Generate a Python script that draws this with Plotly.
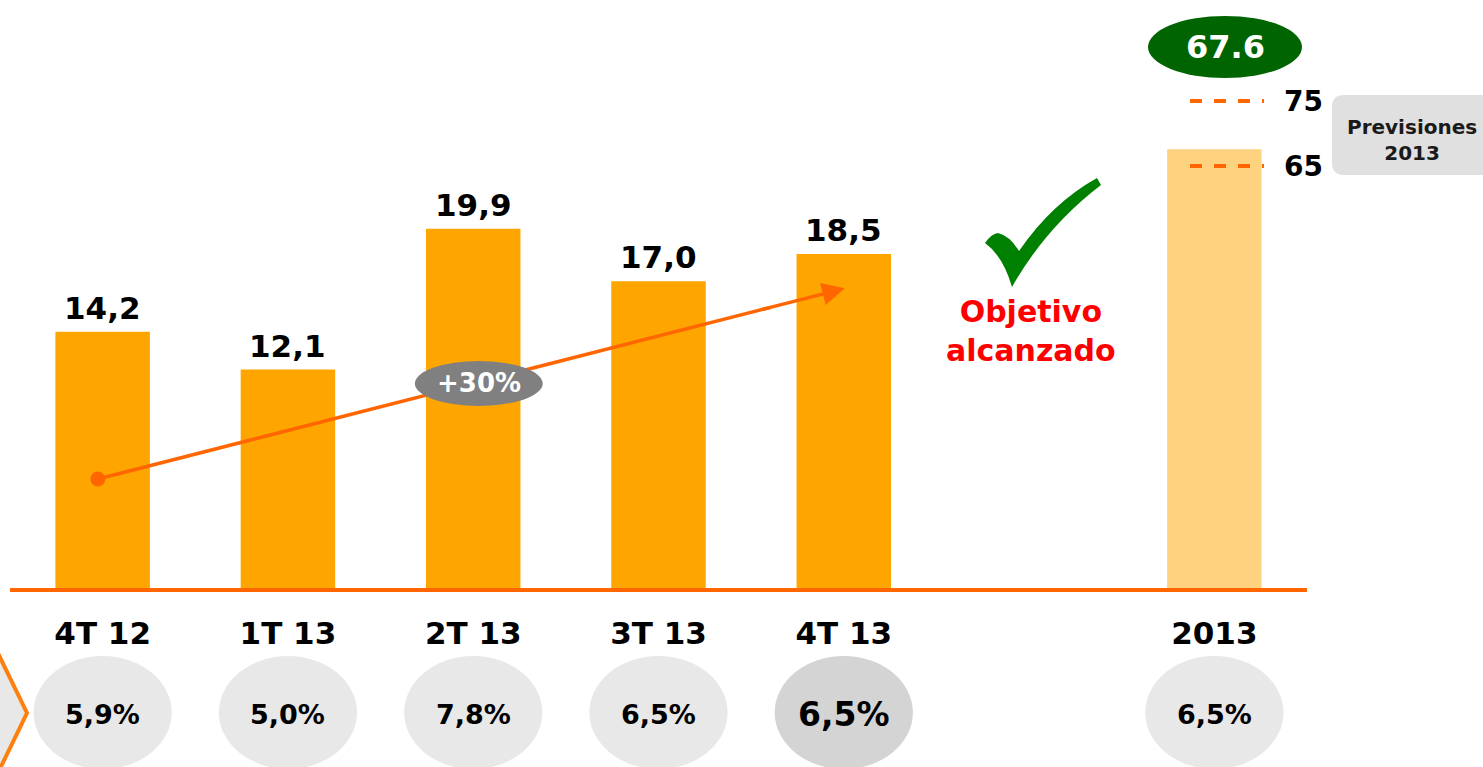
import plotly.graph_objects as go

# ---------------- data ----------------
categories = ["4T 12", "1T 13", "2T 13", "3T 13", "4T 13", "2013"]
cat_pos = [0, 1, 2, 3, 4, 6]
quarter_values = [14.2, 12.1, 19.9, 17.0, 18.5]
year_value = [67.6]
year_actual_label = "67.6"
forecast_low_high = [65, 75]
margin_pct = ["5,9%", "5,0%", "7,8%", "6,5%", "6,5%", "6,5%"]
highlight_idx = 4
trend_x = [-0.026, 4.006]
trend_y = [6.04, 16.6]
trend_label = "+30%"

FONT = "DejaVu Sans"
ORANGE = "#FFA500"
LINE_OR = "#FF6600"

W, H = 1483, 767
L, R, T, B = 10, 176, 20, 179
PW, PH = W - L - R, H - T - B


def px(x, y):
    """pixel -> paper coordinates (decorations only)"""
    return (x - L) / PW, (H - B - y) / PH


def path(points_cmds):
    out = []
    for cmd, pts in points_cmds:
        coords = []
        for (x, y) in pts:
            a, b = px(x, y)
            coords.append(f"{a:.5f},{b:.5f}")
        out.append(cmd + " " + " ".join(coords))
    return " ".join(out) + " Z"


def text_ann(x, y, text, size, color, xref="paper", yref="paper", **kw):
    d = dict(x=x, y=y, xref=xref, yref=yref, text=text, showarrow=False,
             xanchor="center", yanchor="middle",
             font=dict(family=FONT, size=size, color=color))
    d.update(kw)
    return d


fig = go.Figure()

fig.add_trace(go.Bar(
    x=cat_pos[:5], y=quarter_values, width=0.51,
    marker=dict(color=ORANGE, line=dict(width=0)),
    hoverinfo="skip",
))
fig.add_trace(go.Bar(
    x=[cat_pos[5]], y=year_value, width=0.51, yaxis="y2",
    marker=dict(color="#FFD280", line=dict(width=0)),
    hoverinfo="skip",
))

# trend line (arrow)
frac = 0.9
mid_x = trend_x[0] + frac * (trend_x[1] - trend_x[0])
mid_y = trend_y[0] + frac * (trend_y[1] - trend_y[0])
fig.add_trace(go.Scatter(
    x=[trend_x[0], mid_x], y=[trend_y[0], mid_y], mode="lines",
    line=dict(color=LINE_OR, width=3.5), hoverinfo="skip",
))
fig.add_trace(go.Scatter(
    x=[trend_x[0]], y=[trend_y[0]], mode="markers",
    marker=dict(color=LINE_OR, size=15), hoverinfo="skip",
))

shapes = []
annotations = []

# value labels above the bars
for c, v in zip(cat_pos[:5], quarter_values):
    annotations.append(text_ann(c, v, "<b>" + f"{v:.1f}".replace(".", ",") + "</b>", 31, "black",
                                xref="x", yref="y", yanchor="bottom", yshift=4))

annotations.append(dict(
    x=trend_x[1], y=trend_y[1], ax=mid_x - 0.05, ay=mid_y - 0.13,
    axref="x", ayref="y", xref="x", yref="y", text="",
    showarrow=True, arrowhead=2, arrowsize=1.3, arrowwidth=3.5,
    arrowcolor=LINE_OR, standoff=0,
))

# +30% oval
ox, oy = 2.03, 11.33
shapes.append(dict(type="circle", xref="x", yref="y", layer="above",
                   x0=ox - 0.345, x1=ox + 0.345, y0=oy - 1.245, y1=oy + 1.245,
                   fillcolor="#808080", line=dict(width=0)))
annotations.append(text_ann(ox, oy, f"<b>{trend_label}</b>", 26, "white", xref="x", yref="y"))

# percentage ovals below axis
for i, (c, p) in enumerate(zip(cat_pos, margin_pct)):
    hi = i == highlight_idx
    shapes.append(dict(type="circle", xref="x", yref="paper",
                       x0=c - 0.373, x1=c + 0.373,
                       y0=px(0, 769)[1], y1=px(0, 656)[1],
                       fillcolor="#D4D4D4" if hi else "#E8E8E8", line=dict(width=0)))
    annotations.append(text_ann(c, px(0, 714)[1], f"<b>{p}</b>", 33 if hi else 27, "black",
                                xref="x", yref="paper"))

# green oval with actual value
gx0, gy0 = px(1148, 16)
gx1, gy1 = px(1302, 78)
shapes.append(dict(type="circle", xref="paper", yref="paper",
                   x0=gx0, x1=gx1, y0=gy1, y1=gy0,
                   fillcolor="#006400", line=dict(width=0)))
annotations.append(text_ann((gx0 + gx1) / 2, (gy0 + gy1) / 2, f"<b>{year_actual_label}</b>", 32, "white"))

# forecast dashed lines (on secondary scale)
for v in forecast_low_high:
    shapes.append(dict(type="line", xref="paper", yref="y2",
                       x0=px(1190, 0)[0], x1=px(1264, 0)[0], y0=v, y1=v,
                       line=dict(color=LINE_OR, width=4, dash="dash")))
    annotations.append(text_ann(px(1282, 0)[0], v, f"<b>{v}</b>", 28, "black",
                                yref="y2", xanchor="left"))

# Previsiones box (rounded)
bx0, bx1, by0, by1, r = 1332, 1500, 95, 175, 12
shapes.append(dict(type="path", xref="paper", yref="paper",
                   path=path([("M", [(bx0 + r, by0)]), ("L", [(bx1, by0)]), ("L", [(bx1, by1)]),
                              ("L", [(bx0 + r, by1)]), ("Q", [(bx0, by1), (bx0, by1 - r)]),
                              ("L", [(bx0, by0 + r)]), ("Q", [(bx0, by0), (bx0 + r, by0)])]),
                   fillcolor="#E0E0E0", line=dict(width=0)))
annotations.append(text_ann(px(1412, 0)[0], px(0, 140)[1], "<b>Previsiones<br>2013</b>", 20, "#1a1a1a"))

# check mark
shapes.append(dict(type="path", xref="paper", yref="paper",
                   path=path([("M", [(985, 243)]),
                              ("Q", [(991, 234), (998, 233)]),
                              ("Q", [(1010, 236), (1019, 251)]),
                              ("Q", [(1052, 203), (1097, 178)]),
                              ("L", [(1101, 185)]),
                              ("Q", [(1046, 227), (1012, 287)]),
                              ("Q", [(1003, 256), (985, 243)])]),
                   fillcolor="#008000", line=dict(width=0)))
annotations.append(text_ann(px(1031, 0)[0], px(0, 331)[1], "<b>Objetivo<br>alcanzado</b>", 30, "#FF0000"))

# left chevron
shapes.append(dict(type="path", xref="paper", yref="paper",
                   path=path([("M", [(-6, 645)]), ("L", [(27, 713)]), ("L", [(-6, 781)])]),
                   fillcolor="#E8E8E8", line=dict(color="#FF7F0E", width=4)))

fig.update_layout(
    width=W, height=H, template="none",
    margin=dict(l=L, r=R, t=T, b=B),
    paper_bgcolor="white", plot_bgcolor="white",
    showlegend=False, separators=",.",
    bargap=0.2,
    xaxis=dict(range=[-0.5, 6.5], tickvals=cat_pos,
               ticktext=[f"<b>{c}</b>" for c in categories],
               tickfont=dict(family=FONT, size=31, color="black"),
               showgrid=False, zeroline=False, showline=True,
               linecolor=LINE_OR, linewidth=4, ticks="", ticklabelstandoff=15),
    yaxis=dict(range=[0, PH / 18.05], visible=False, showgrid=False, zeroline=False),
    yaxis2=dict(range=[0, PH / 6.492], overlaying="y", visible=False,
                showgrid=False, zeroline=False),
    shapes=shapes, annotations=annotations,
)

fig.write_html("out.html", config={"displayModeBar": False},
               post_script="document.body.style.margin='0';document.body.style.overflow='hidden';")
